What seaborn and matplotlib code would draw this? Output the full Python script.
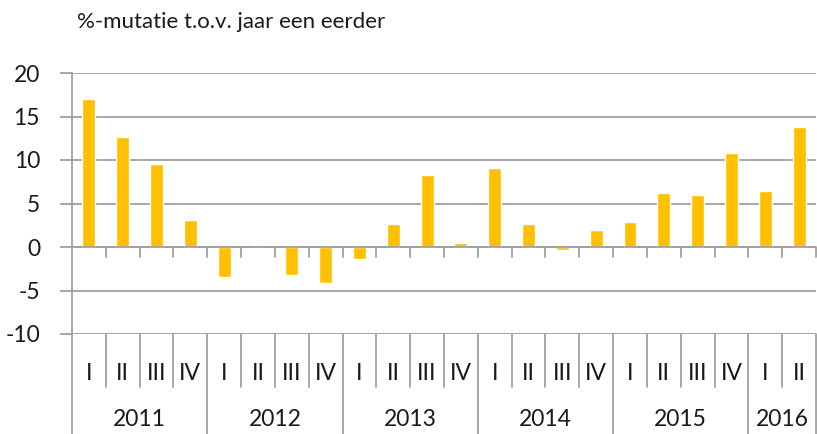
import numpy as np
import pandas as pd
import seaborn as sns
import matplotlib.pyplot as plt

# quarterly %-change vs. a year earlier
years = ["2011", "2012", "2013", "2014", "2015", "2016"]
quarters_per_year = [4, 4, 4, 4, 4, 2]
quarter_names = ["I", "II", "III", "IV"]
values = [17.0, 12.6, 9.5, 3.1,
          -3.4, 0.0, -3.2, -4.1,
          -1.4, 2.7, 8.3, 0.5,
          9.1, 2.6, -0.4, 2.0,
          2.9, 6.2, 6.0, 10.8,
          6.4, 13.8]
title = "%-mutatie t.o.v. jaar een eerder"

labels = []
year_of = []
for y, n in zip(years, quarters_per_year):
    for q in quarter_names[:n]:
        labels.append(y + " " + q)
        year_of.append(y)
df = pd.DataFrame({"period": labels, "value": values, "year": year_of})

sns.set_style("white")
plt.rcParams["font.family"] = ["Lato", "DejaVu Sans"]
plt.rcParams["axes.unicode_minus"] = False
grey = "#A0A0A0"
txt = "#1a1a1a"

fig = plt.figure(figsize=(8.17, 4.34), dpi=100)
W, H = 817, 434
left, right, top, bottom = 72, 816, 73, 334
ax = fig.add_axes([left / W, 1 - bottom / H, (right - left) / W, (bottom - top) / H])

sns.barplot(data=df, x="period", y="value", color="#FFC000", width=0.38,
            saturation=1, ax=ax)
n = len(df)
ax.set_xlim(-0.5, n - 0.5)
ax.set_ylim(-10, 20)
ax.set_yticks(np.arange(-10, 21, 5))
ax.yaxis.grid(True, color=grey, lw=1.3)
ax.set_axisbelow(True)
ax.set_xlabel("")
ax.set_ylabel("")
ax.set_xticks([])
ax.tick_params(axis="y", labelsize=16.5, colors=txt, length=9, width=1.3,
               color=grey, left=True, pad=14)
for s in ["top", "right", "bottom"]:
    ax.spines[s].set_visible(False)
ax.spines["left"].set_color(grey)
ax.spines["left"].set_linewidth(1.3)

# horizontal axis through zero with ticks at category boundaries
ax.axhline(0, color=grey, lw=1.3, zorder=1)
axh = bottom - top
tick_len = 9.5 / axh
zero_ax = 10 / 30
tr = ax.get_xaxis_transform()
for b in np.arange(0.5, n, 1.0):
    ax.plot([b, b], [zero_ax, zero_ax - tick_len], color=grey, lw=1.3,
            transform=tr, clip_on=False)

# category label area below the plot
q_end = -(386.5 - bottom) / axh
y_end = -(H - bottom) / axh
ax.plot([-0.5, -0.5], [0, y_end], color=grey, lw=1.3, transform=tr, clip_on=False)
pos = 0
for y, k in zip(years, quarters_per_year):
    for i in range(k):
        ax.text(pos + i, -(373 - bottom) / axh, quarter_names[i], transform=tr,
                ha="center", va="center", fontsize=16.5, color=txt)
        if i < k - 1:
            ax.plot([pos + i + 0.5] * 2, [0, q_end], color=grey, lw=1.3,
                    transform=tr, clip_on=False)
    ax.text(pos + (k - 1) / 2, -(420 - bottom) / axh, y, transform=tr,
            ha="center", va="center", fontsize=16.5, color=txt)
    pos += k
    ax.plot([pos - 0.5] * 2, [0, y_end], color=grey, lw=1.3, transform=tr,
            clip_on=False)

fig.text(77 / W, 1 - 22 / H, title, ha="left", va="center", fontsize=16, color=txt)

fig.savefig("out.png", dpi=100)
